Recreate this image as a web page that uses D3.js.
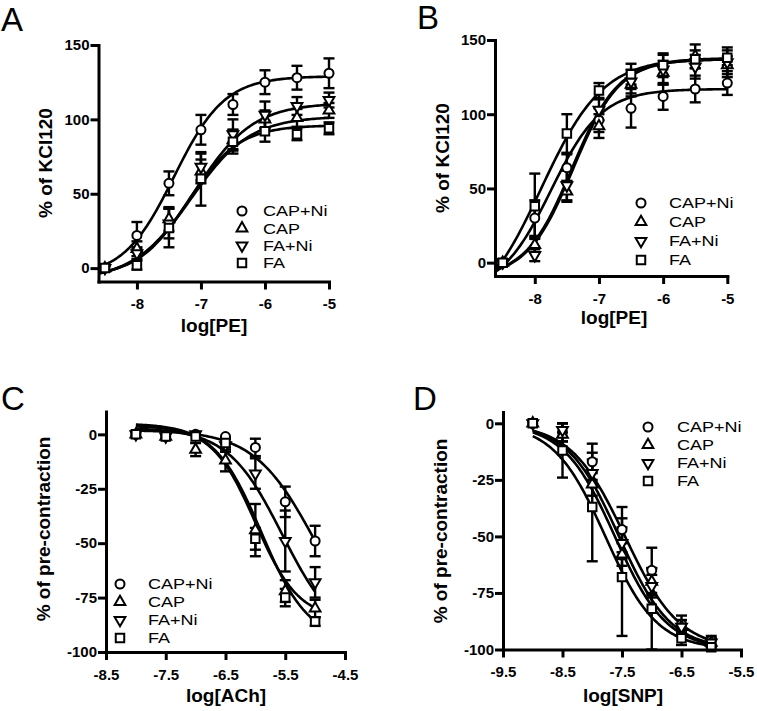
<!DOCTYPE html>
<html>
<head>
<meta charset="utf-8">
<script src="https://cdn.jsdelivr.net/npm/d3@7/dist/d3.min.js"></script>
<style>
  html, body { margin: 0; padding: 0; background: #fff; }
  svg { display: block; }
</style>
</head>
<body>
<svg id="chart" width="757" height="711"></svg>
<script>
// ---------------- DATA ----------------
const seriesNames = ["CAP+Ni", "CAP", "FA+Ni", "FA"];
const symbolKinds = ["circle", "triangleUp", "triangleDown", "square"];

// Panel A: log[PE] vs % of KCl120
const xA = [-8.5, -8, -7.5, -7, -6.5, -6, -5.5, -5];
const A_capni = [0, 22, 57, 93, 110, 125, 128, 131];
const A_capni_err = [2, 9, 8, 10, 7, 8, 8, 10];
const A_cap = [0, 13, 33, 65, 86, 100, 101, 106];
const A_cap_err = [2, 5, 8, 8, 7, 6, 6, 5];
const A_fani = [0, 10, 30, 68, 90, 103, 109, 113];
const A_fani_err = [2, 4, 10, 9, 10, 9, 6, 5];
const A_fa = [0, 2, 27, 60, 85, 92, 90, 94];
const A_fa_err = [2, 3, 13, 18, 8, 7, 4, 4];
// fitted curve parameters [bottom, top, logEC50, hill]
const A_fit = [[-6, 129, -7.42, 1.1], [-8, 102, -7.15, 0.95], [-8, 111, -7.1, 0.95], [-6, 96, -7.2, 1.1]];
const A_xTicks = [-8, -7, -6, -5];
const A_yTicks = [0, 50, 100, 150];

// Panel B: log[PE] vs % of KCl120
const xB = [-8.5, -8, -7.5, -7, -6.5, -6, -5.5, -5];
const B_capni = [0, 30, 64, 96, 104, 112, 117, 121];
const B_capni_err = [2, 12, 9, 8, 13, 9, 9, 8];
const B_cap = [0, 12, 48, 92, 120, 128, 139, 133];
const B_cap_err = [2, 5, 7, 8, 8, 8, 8, 6];
const B_fani = [0, 5, 52, 103, 122, 130, 132, 135];
const B_fani_err = [2, 4, 10, 7, 8, 10, 8, 10];
const B_fa = [0, 38, 87, 116, 127, 133, 137, 138];
const B_fa_err = [2, 22, 13, 5, 7, 8, 6, 5];
const B_fit = [[-20, 117, -7.75, 1.1], [-10, 137, -7.4, 1.2], [-10, 137, -7.42, 1.2], [-38, 138, -7.9, 0.9]];
const B_xTicks = [-8, -7, -6, -5];
const B_yTicks = [0, 50, 100, 150];

// Panel C: log[ACh] vs % of pre-contraction
const xC = [-8, -7.5, -7, -6.5, -6, -5.5, -5];
const C_capni = [0, -1, 0, -1, -6, -31, -49];
const C_capni_err = [1, 1, 1, 1, 4, 7, 7];
const C_cap = [0, -1, -7, -12, -44, -72, -80];
const C_cap_err = [1, 1, 3, 5, 12, 5, 4];
const C_fani = [0, -1, 0, -5, -18, -49, -68];
const C_fani_err = [1, 1, 1, 3, 7, 14, 7];
const C_fa = [0, -1, -1, -4, -48, -75, -86];
const C_fa_err = [1, 1, 1, 2, 5, 4, 2];
const C_fit = [[-100, 2, -5.0, -0.85], [-85, 4, -6.0, -1.2], [-95, 3, -5.55, -0.95], [-95, 5, -5.9, -1.1]];
const C_xTicks = [-8.5, -7.5, -6.5, -5.5, -4.5];
const C_yTicks = [0, -25, -50, -75, -100];

// Panel D: log[SNP] vs % of pre-contraction
const xD = [-9, -8.5, -8, -7.5, -7, -6.5, -6];
const D_capni = [0, -4, -17, -47, -65, -89, -96];
const D_capni_err = [1, 4, 8, 10, 10, 4, 2];
const D_cap = [0, -5, -27, -58, -70, -90, -97];
const D_cap_err = [1, 3, 5, 5, 6, 3, 2];
const D_fani = [0, -3, -22, -53, -72, -90, -97];
const D_fani_err = [1, 3, 6, 7, 5, 3, 2];
const D_fa = [0, -12, -37, -68, -82, -95, -99];
const D_fa_err = [1, 12, 24, 26, 18, 3, 1];
const D_fit = [[-100, 0, -7.45, -0.95], [-100, 0, -7.62, -1.0], [-100, 0, -7.55, -1.0], [-100, 0, -7.78, -1.0]];
const D_xTicks = [-9.5, -8.5, -7.5, -6.5, -5.5];
const D_yTicks = [0, -25, -50, -75, -100];

// ---------------- DRAWING ----------------
const FONT = "'Liberation Sans', Arial, Helvetica, sans-serif";
const svg = d3.select("#chart");

function symbolPath(kind) {
  if (kind === "circle") return d3.symbol(d3.symbolCircle, 64)();
  if (kind === "square") return d3.symbol(d3.symbolSquare, 72)();
  return d3.symbol(d3.symbolTriangle, 50)();
}
function symbolTransform(kind) {
  return kind === "triangleDown" ? " rotate(180)" : "";
}

function drawPanel(p) {
  const g = svg.append("g");
  const x = d3.scaleLinear().domain(p.xDomain).range(p.xRange);
  const y = d3.scaleLinear().domain(p.yDomain).range(p.yRange);
  const fmt = d => String(d);

  // panel letter
  g.append("text").attr("x", p.letterPos[0]).attr("y", p.letterPos[1])
    .attr("font-family", FONT).attr("font-size", 33).text(p.letter);

  // curves
  const curveXs = d3.range(0, 121).map(i => p.curveDomain[0] + (p.curveDomain[1] - p.curveDomain[0]) * i / 120);
  const line = d3.line().x(d => x(d[0])).y(d => y(d[1]));
  p.fits.forEach(f => {
    const [bottom, top, ec, hill] = f;
    const pts = curveXs.map(v => [v, bottom + (top - bottom) / (1 + Math.pow(10, (ec - v) * hill))]);
    g.append("path").attr("d", line(pts)).attr("fill", "none")
      .attr("stroke", "#000").attr("stroke-width", 2.6);
  });

  // error bars
  p.series.forEach(s => {
    s.vals.forEach((v, i) => {
      const cx = x(p.xs[i]);
      const e = s.err[i];
      if (e < 1.5) return;
      const y1 = y(v + e), y2 = y(v - e);
      g.append("line").attr("x1", cx).attr("x2", cx).attr("y1", y1).attr("y2", y2)
        .attr("stroke", "#000").attr("stroke-width", 2.4);
      [y1, y2].forEach(yy => g.append("line").attr("x1", cx - 5.5).attr("x2", cx + 5.5)
        .attr("y1", yy).attr("y2", yy).attr("stroke", "#000").attr("stroke-width", 2.4));
    });
  });

  // markers
  p.series.forEach((s, k) => {
    const kind = symbolKinds[k];
    g.selectAll(null).data(s.vals).enter().append("path")
      .attr("d", symbolPath(kind))
      .attr("transform", (v, i) => `translate(${x(p.xs[i])},${y(v)})` + symbolTransform(kind))
      .attr("fill", "#fff").attr("stroke", "#000").attr("stroke-width", 2);
  });

  // axes
  const xAxis = d3.axisBottom(x).tickValues(p.xTicks).tickFormat(fmt).tickSizeInner(8).tickSizeOuter(0).tickPadding(9);
  const yAxis = d3.axisLeft(y).tickValues(p.yTicks).tickFormat(fmt).tickSizeInner(8).tickSizeOuter(0).tickPadding(1);
  const gx = g.append("g").attr("transform", `translate(0,${p.yRange[0]})`).call(xAxis);
  const gy = g.append("g").attr("transform", `translate(${p.xRange[0]},0)`).call(yAxis);
  [gx, gy].forEach(ax => {
    ax.select(".domain").attr("stroke", "#000").attr("stroke-width", 3).attr("stroke-linecap", "square");
    ax.selectAll(".tick line").attr("stroke", "#000").attr("stroke-width", 3);
    ax.selectAll(".tick text").attr("font-family", FONT).attr("font-size", 15)
      .attr("font-weight", "bold").attr("fill", "#000");
  });

  // axis titles
  g.append("text").attr("x", p.xLabelPos[0]).attr("y", p.xLabelPos[1])
    .attr("text-anchor", "middle").attr("font-family", FONT).attr("font-size", 19)
    .attr("font-weight", "bold").text(p.xLabel);
  g.append("text").attr("transform", `translate(${p.yLabelPos[0]},${p.yLabelPos[1]}) rotate(-90)`)
    .attr("text-anchor", "middle").attr("font-family", FONT).attr("font-size", 19)
    .attr("font-weight", "bold").text(p.yLabel);

  // legend
  seriesNames.forEach((name, k) => {
    const ly = p.legend.y0 + k * p.legend.dy;
    const kind = symbolKinds[k];
    g.append("path").attr("d", symbolPath(kind))
      .attr("transform", `translate(${p.legend.mx},${ly})` + symbolTransform(kind))
      .attr("fill", "#fff").attr("stroke", "#000").attr("stroke-width", 2);
    g.append("text").attr("transform", `translate(${p.legend.tx},${ly}) scale(1.2,1)`)
      .attr("dy", "0.36em")
      .attr("font-family", FONT).attr("font-size", 15).text(name);
  });
}

const mk = (vals, err) => ({ vals, err });

drawPanel({
  letter: "A", letterPos: [1, 31],
  xDomain: [-8.6, -5], xRange: [98.5, 329], yDomain: [-9, 150], yRange: [281.5, 45],
  xs: xA, xTicks: A_xTicks, yTicks: A_yTicks, curveDomain: [-8.6, -5], fits: A_fit,
  series: [mk(A_capni, A_capni_err), mk(A_cap, A_cap_err), mk(A_fani, A_fani_err), mk(A_fa, A_fa_err)],
  xLabel: "log[PE]", xLabelPos: [214, 332], yLabel: "% of KCl120", yLabelPos: [52, 163],
  legend: { mx: 242, tx: 263, y0: 211, dy: 17.3 }
});
drawPanel({
  letter: "B", letterPos: [417, 29],
  xDomain: [-8.62, -5], xRange: [495, 727.3], yDomain: [-9, 150], yRange: [276, 40],
  xs: xB, xTicks: B_xTicks, yTicks: B_yTicks, curveDomain: [-8.62, -5], fits: B_fit,
  series: [mk(B_capni, B_capni_err), mk(B_cap, B_cap_err), mk(B_fani, B_fani_err), mk(B_fa, B_fa_err)],
  xLabel: "log[PE]", xLabelPos: [614, 324], yLabel: "% of KCl120", yLabelPos: [449, 158],
  legend: { mx: 641, tx: 669, y0: 203, dy: 19 }
});
drawPanel({
  letter: "C", letterPos: [1, 410],
  xDomain: [-8.5, -4.5], xRange: [106, 345], yDomain: [-100, 10.5], yRange: [652, 411.5],
  xs: xC, xTicks: C_xTicks, yTicks: C_yTicks, curveDomain: [-8, -5], fits: C_fit,
  series: [mk(C_capni, C_capni_err), mk(C_cap, C_cap_err), mk(C_fani, C_fani_err), mk(C_fa, C_fa_err)],
  xLabel: "log[ACh]", xLabelPos: [226, 702], yLabel: "% of pre-contraction", yLabelPos: [50, 529],
  legend: { mx: 120, tx: 148, y0: 584, dy: 18 }
});
drawPanel({
  letter: "D", letterPos: [413, 410],
  xDomain: [-9.5, -5.5], xRange: [503, 741], yDomain: [-100, 5], yRange: [649.5, 412],
  xs: xD, xTicks: D_xTicks, yTicks: D_yTicks, curveDomain: [-9, -6], fits: D_fit,
  series: [mk(D_capni, D_capni_err), mk(D_cap, D_cap_err), mk(D_fani, D_fani_err), mk(D_fa, D_fa_err)],
  xLabel: "log[SNP]", xLabelPos: [623, 702], yLabel: "% of pre-contraction", yLabelPos: [447, 531],
  legend: { mx: 648, tx: 677, y0: 427, dy: 18 }
});
</script>
</body>
</html>
